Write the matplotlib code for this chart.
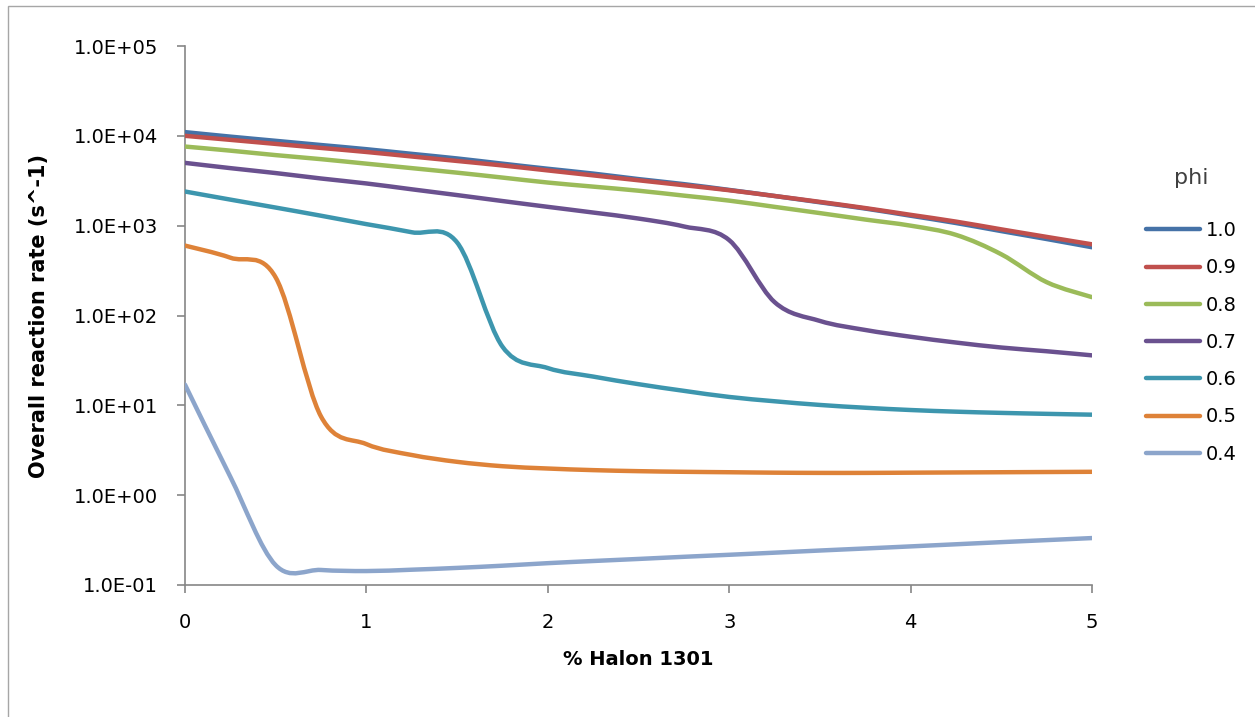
import numpy as np
import matplotlib.pyplot as plt
from matplotlib.path import Path
from matplotlib.patches import PathPatch, Rectangle
from matplotlib.lines import Line2D

plt.rcParams['font.family'] = ['DejaVu Sans']

# % Halon 1301
halon = [0, 0.25, 0.5, 0.75, 1, 1.25, 1.5, 1.75, 2, 2.25, 2.5,
         2.75, 3, 3.25, 3.5, 3.75, 4, 4.25, 4.5, 4.75, 5]

# overall reaction rate (s^-1) for each equivalence ratio
rate_10 = [11000, 9800, 8800, 7900, 7100, 6300, 5600, 4900, 4300, 3800, 3300,
           2900, 2500, 2140, 1820, 1550, 1290, 1070, 870, 710, 575]
rate_09 = [10000, 9020, 8130, 7330, 6610, 5890, 5250, 4680, 4120, 3630, 3200,
           2820, 2480, 2140, 1840, 1570, 1320, 1110, 910, 750, 620]
rate_08 = [7600, 6840, 6100, 5500, 4900, 4370, 3890, 3430, 3020, 2720, 2450,
           2160, 1900, 1620, 1380, 1170, 1000, 790, 480, 235, 160]
rate_07 = [5000, 4370, 3850, 3350, 2950, 2540, 2190, 1880, 1620, 1400, 1200,
           980, 690, 141, 87, 69, 58, 50, 44, 40, 36]
rate_06 = [2400, 1950, 1590, 1290, 1040, 845, 650, 45, 26, 20.9, 17.2,
           14.5, 12.4, 11.1, 10.1, 9.4, 8.87, 8.5, 8.24, 8.04, 7.87]
rate_05 = [600, 440, 265, 7.5, 3.7, 2.8, 2.35, 2.1, 1.98, 1.9, 1.85,
           1.82, 1.8, 1.78, 1.77, 1.77, 1.78, 1.79, 1.8, 1.81, 1.82]
rate_04 = [17, 1.6, 0.166, 0.147, 0.143, 0.148, 0.155, 0.164, 0.175, 0.185, 0.195,
           0.206, 0.217, 0.229, 0.242, 0.255, 0.269, 0.284, 0.3, 0.316, 0.333]

phi_labels = ['1.0', '0.9', '0.8', '0.7', '0.6', '0.5', '0.4']
series = [rate_10, rate_09, rate_08, rate_07, rate_06, rate_05, rate_04]
colors = ['#4572A7', '#C0504D', '#9BBB59', '#6A518F', '#3D96AE', '#DE8238', '#8CA5CB']

y_ticks = [1e-1, 1e0, 1e1, 1e2, 1e3, 1e4, 1e5]
y_ticklabels = ['1.0E-01', '1.0E+00', '1.0E+01', '1.0E+02', '1.0E+03', '1.0E+04', '1.0E+05']


def smooth_path(x, y):
    # Excel-style smoothed line: Catmull-Rom bezier in (x, log10 y) space
    lx = np.asarray(x, float)
    ly = np.log10(np.asarray(y, float))
    n = len(lx)
    verts = [(lx[0], ly[0])]
    for i in range(n - 1):
        a = i - 1 if i > 0 else i
        d = i + 2 if i + 2 < n else i + 1
        verts.append((lx[i] + (lx[i + 1] - lx[a]) / 6, ly[i] + (ly[i + 1] - ly[a]) / 6))
        verts.append((lx[i + 1] - (lx[d] - lx[i]) / 6, ly[i + 1] - (ly[d] - ly[i]) / 6))
        verts.append((lx[i + 1], ly[i + 1]))
    verts = np.array(verts)
    verts[:, 1] = 10 ** verts[:, 1]
    codes = [Path.MOVETO] + [Path.CURVE4] * (3 * (n - 1))
    return Path(verts, codes)


fig = plt.figure(figsize=(12.55, 7.17), dpi=100)
ax = fig.add_axes([185 / 1255, 1 - 585 / 717, (1092 - 185) / 1255, (585 - 46) / 717])

handles = []
for vals, c, lab in zip(series, colors, phi_labels):
    ax.add_patch(PathPatch(smooth_path(halon, vals), facecolor='none', edgecolor=c,
                           lw=3.2, capstyle='round', joinstyle='round', zorder=3))
    handles.append(Line2D([], [], color=c, lw=3.2, solid_capstyle='round'))

ax.set_yscale('log')
ax.set_xlim(0, 5)
ax.set_ylim(1e-1, 1e5)
ax.set_yticks(y_ticks)
ax.set_yticklabels(y_ticklabels)
ax.yaxis.set_minor_locator(plt.NullLocator())
ax.set_xticks([0, 1, 2, 3, 4, 5])
ax.set_xticklabels(['0', '1', '2', '3', '4', '5'])

for s in ['top', 'right']:
    ax.spines[s].set_visible(False)
for s in ['left', 'bottom']:
    ax.spines[s].set_color('#868686')
    ax.spines[s].set_linewidth(1.2)
ax.tick_params(axis='both', direction='out', length=6, width=1.2, color='#868686',
               labelsize=14, labelcolor='black')
ax.tick_params(axis='y', pad=13.5)
ax.tick_params(axis='x', pad=14)

ax.set_xlabel('% Halon 1301', fontsize=14, fontweight='bold')
ax.set_ylabel('Overall reaction rate (s^-1)', fontsize=15, fontweight='bold')
ax.xaxis.set_label_coords(0.5, -(650 - 585) / 539)
ax.yaxis.set_label_coords(-(185 - 49) / 907, 0.5)

leg = ax.legend(handles, phi_labels, title='phi', loc='upper left',
                bbox_to_anchor=(1138 / 1255, 1 - 160 / 717), bbox_transform=fig.transFigure,
                frameon=False, fontsize=14, handlelength=2.8, handletextpad=0.3,
                labelspacing=0.94, borderaxespad=0)
leg.get_title().set_fontsize(16)
leg.get_title().set_color('#404040')
leg._legend_box.sep = 24

# outer chart-area border
fig.patches.append(Rectangle((8 / 1255, -0.05), 1.2, 1 - 6 / 717 + 0.05,
                             transform=fig.transFigure, fill=False,
                             edgecolor='#A6A6A6', lw=1.0))

fig.savefig('out.png', dpi=100)
